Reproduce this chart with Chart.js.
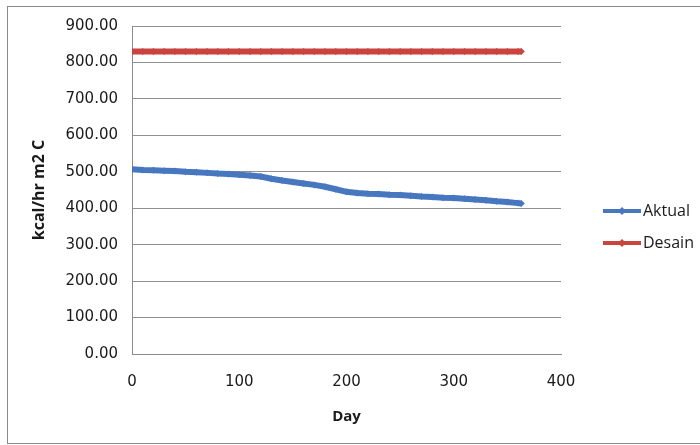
<!DOCTYPE html>
<html>
<head>
<meta charset="utf-8">
<script src="https://cdn.jsdelivr.net/npm/chart.js@4/dist/chart.umd.min.js"></script>
<style>
  html, body { margin: 0; padding: 0; background: #fff; }
  #wrap { position: relative; width: 700px; height: 445px; overflow: hidden; }
  #frame { position: absolute; left: 7px; top: 6px; width: 700px; height: 438px;
           border: 1px solid #8a8a8a; box-sizing: border-box; pointer-events: none; }
  canvas { position: absolute; left: 0; top: 0; }
</style>
</head>
<body>
<div id="wrap">
  <canvas id="c" width="700" height="445"></canvas>
  <div id="frame"></div>
</div>
<script>
// Operating day of the year
const days = [0, 10, 20, 30, 40, 50, 60, 70, 80, 90, 100, 110, 120, 130, 140, 150, 160, 170, 180,
  190, 200, 210, 220, 230, 240, 250, 260, 270, 280, 290, 300, 310, 320, 330, 340, 350, 360, 363];
// Measured heat transfer coefficient (kcal/hr m2 C)
const aktual = [507, 505, 504, 503, 502, 500, 499, 497, 495, 494, 492, 490, 487, 481, 476, 472, 468, 464, 459,
  452, 445, 442, 440, 439, 437, 436, 434, 432, 431, 429, 428, 426, 424, 422, 419, 417, 414, 413];
// Design heat transfer coefficient
const desain = [830, 830, 830, 830, 830, 830, 830, 830, 830, 830, 830, 830, 830, 830, 830, 830, 830, 830, 830,
  830, 830, 830, 830, 830, 830, 830, 830, 830, 830, 830, 830, 830, 830, 830, 830, 830, 830, 830];
const seriesNames = ['Aktual', 'Desain'];
const xTicks = [0, 100, 200, 300, 400];
const yTicks = [0, 100, 200, 300, 400, 500, 600, 700, 800, 900];

const blue = '#4677bf';
const red = '#c9443f';
const tickFont = { family: 'DejaVu Sans', size: 15 };

const toPoints = (vals) => days.map((d, i) => ({ x: d, y: vals[i] }));

// Line-and-marker legend drawn at the right of the plot
const sideLegend = {
  id: 'sideLegend',
  afterDraw(chart) {
    const ctx = chart.ctx;
    const rows = [211, 243];
    chart.data.datasets.forEach((ds, i) => {
      const y = rows[i];
      ctx.save();
      ctx.strokeStyle = ds.borderColor;
      ctx.lineWidth = 4;
      ctx.beginPath();
      ctx.moveTo(603, y);
      ctx.lineTo(641, y);
      ctx.stroke();
      ctx.fillStyle = ds.borderColor;
      ctx.beginPath();
      ctx.moveTo(622, y - 4); ctx.lineTo(626, y); ctx.lineTo(622, y + 4); ctx.lineTo(618, y);
      ctx.closePath();
      ctx.fill();
      ctx.fillStyle = '#1a1a1a';
      ctx.font = '16px "Open Sans"';
      ctx.textBaseline = 'middle';
      ctx.textAlign = 'left';
      ctx.fillText(ds.label, 643, y);
      ctx.restore();
    });
  }
};

new Chart(document.getElementById('c'), {
  type: 'scatter',
  data: {
    datasets: [
      { label: seriesNames[0], data: toPoints(aktual), showLine: true, borderColor: blue, backgroundColor: blue,
        borderWidth: 6, pointStyle: 'rectRot', pointRadius: 3.5, pointBorderWidth: 0 },
      { label: seriesNames[1], data: toPoints(desain), showLine: true, borderColor: red, backgroundColor: red,
        borderWidth: 6, pointStyle: 'rectRot', pointRadius: 3.5, pointBorderWidth: 0 }
    ]
  },
  options: {
    responsive: false,
    animation: false,
    layout: { padding: { left: 0, right: 139, top: 26, bottom: 0 } },
    plugins: { legend: { display: false }, tooltip: { enabled: false } },
    scales: {
      x: {
        type: 'linear', min: 0, max: 400,
        afterBuildTicks: (s) => { s.ticks = xTicks.map(v => ({ value: v })); },
        afterFit: (s) => { s.height = 91; },
        grid: { display: false, drawTicks: false },
        border: { color: '#8a8a8a', width: 1 },
        ticks: { font: tickFont, color: '#1a1a1a', padding: 19, maxRotation: 0 },
        title: { display: true, text: 'Day', font: { family: 'Open Sans', size: 15, weight: 'bold' },
                 color: '#1a1a1a', padding: { top: 0, bottom: 19 } }
      },
      y: {
        type: 'linear', min: 0, max: 900,
        afterBuildTicks: (s) => { s.ticks = yTicks.map(v => ({ value: v })); },
        afterFit: (s) => { s.width = 132; },
        grid: { color: '#8f8f8f', lineWidth: 1, drawTicks: false },
        border: { color: '#8a8a8a', width: 1 },
        ticks: { font: tickFont, color: '#1a1a1a', padding: 14, callback: (v) => Number(v).toFixed(2) },
        title: { display: true, text: 'kcal/hr m2 C', font: { family: 'Open Sans', size: 16, weight: 'bold' },
                 color: '#1a1a1a', padding: { top: 30, bottom: 0 } }
      }
    }
  },
  plugins: [sideLegend]
});
</script>
</body>
</html>
